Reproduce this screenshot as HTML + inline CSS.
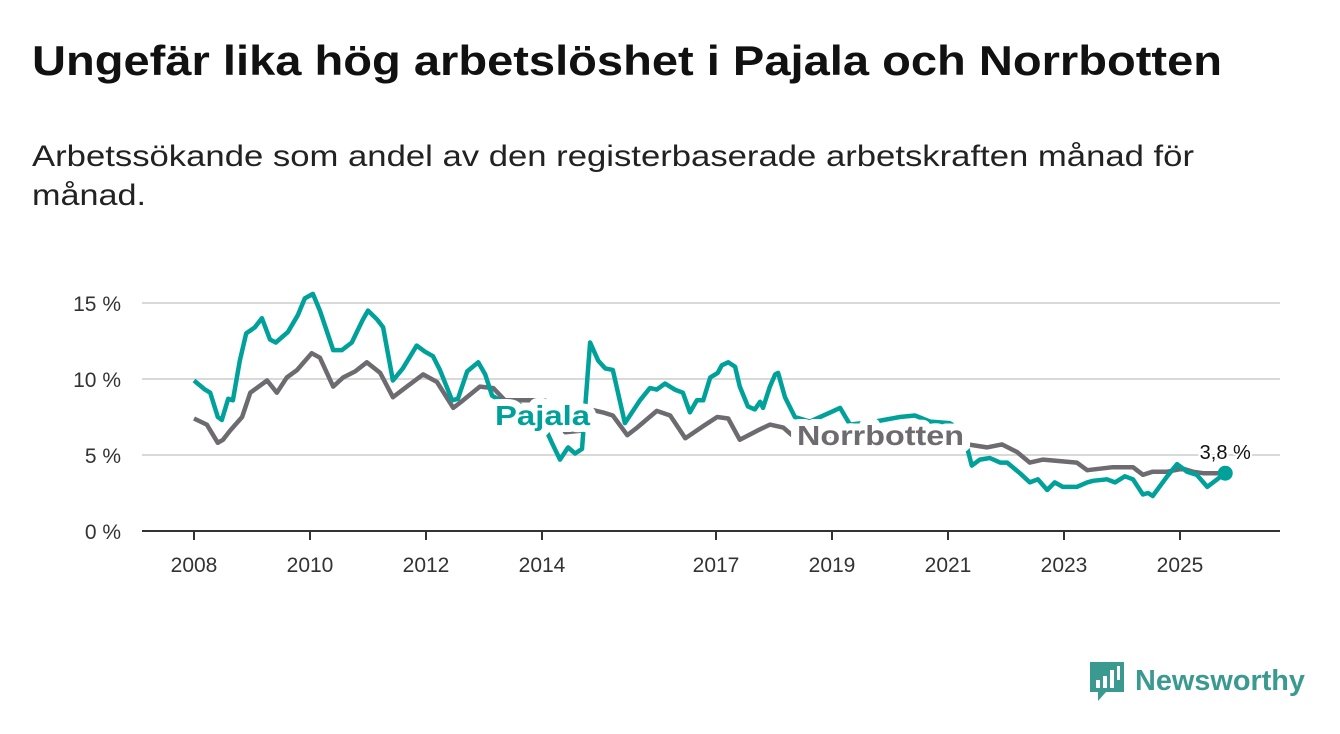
<!DOCTYPE html>
<html><head><meta charset="utf-8"><style>
body{margin:0;background:#fff;width:1340px;height:734px;overflow:hidden}
svg{display:block;font-family:"Liberation Sans",sans-serif}
</style></head><body>
<svg id="c" width="1340" height="734">
<text x="32" y="75" font-size="42" font-weight="bold" fill="#111" textLength="1190" lengthAdjust="spacingAndGlyphs">Ungefär lika hög arbetslöshet i Pajala och Norrbotten</text>
<text x="32" y="166" font-size="30" fill="#222" textLength="1162" lengthAdjust="spacingAndGlyphs">Arbetssökande som andel av den registerbaserade arbetskraften månad för</text>
<text x="32" y="205" font-size="30" fill="#222" textLength="114" lengthAdjust="spacingAndGlyphs">månad.</text>
<g id="grid"></g><g id="xax"></g><g id="lines"></g><g id="labels"></g>
<g>
<path d="M1090 662h34v30h-18l-8 9v-9h-8z" fill="#3a9a8f"/>
<rect x="1096" y="680" width="4" height="8" fill="#fff"/><rect x="1103" y="676" width="4" height="12" fill="#fff"/><rect x="1110" y="670" width="4" height="18" fill="#fff"/><rect x="1117" y="666" width="3" height="14" fill="#fff"/>
<text x="1135" y="690" font-size="29" font-weight="bold" fill="#3a9a8f" textLength="170" lengthAdjust="spacingAndGlyphs">Newsworthy</text>
</g>
</svg>
<script>
const yTicks=[0,5,10,15];
const xTicks=[2008,2010,2012,2014,2017,2019,2021,2023,2025];
const pajalaDates=[2008.0,2008.19,2008.28,2008.41,2008.48,2008.59,2008.67,2008.79,2008.9,2009.05,2009.17,2009.31,2009.41,2009.62,2009.79,2009.91,2010.05,2010.17,2010.4,2010.55,2010.72,2010.91,2011.0,2011.16,2011.26,2011.43,2011.6,2011.84,2011.98,2012.12,2012.24,2012.45,2012.55,2012.71,2012.9,2013.02,2013.14,2013.28,2013.62,2013.97,2014.17,2014.31,2014.45,2014.57,2014.69,2014.83,2014.97,2015.09,2015.22,2015.43,2015.69,2015.86,2015.98,2016.12,2016.29,2016.43,2016.55,2016.67,2016.78,2016.9,2017.03,2017.1,2017.21,2017.33,2017.41,2017.55,2017.67,2017.76,2017.81,2017.93,2018.02,2018.07,2018.19,2018.36,2018.62,2018.97,2019.14,2019.31,2019.74,2020.17,2020.43,2020.69,2021.03,2021.24,2021.33,2021.41,2021.55,2021.72,2021.9,2022.02,2022.24,2022.41,2022.55,2022.71,2022.84,2022.98,2023.22,2023.4,2023.5,2023.74,2023.88,2024.05,2024.19,2024.36,2024.45,2024.53,2024.78,2024.95,2025.12,2025.29,2025.47,2025.78];
const pajalaValues=[9.9,9.3,9.1,7.5,7.3,8.7,8.6,11.2,13,13.4,14,12.6,12.4,13.1,14.2,15.3,15.6,14.5,11.9,11.9,12.4,13.9,14.5,13.9,13.4,9.9,10.7,12.2,11.8,11.5,10.6,8.6,8.7,10.5,11.1,10.3,8.9,8.6,8.3,7.5,5.8,4.7,5.5,5.1,5.4,12.4,11.2,10.7,10.6,7.1,8.6,9.4,9.3,9.7,9.3,9.1,7.8,8.6,8.6,10.1,10.4,10.9,11.1,10.8,9.5,8.2,8.0,8.5,8.1,9.5,10.3,10.4,8.8,7.5,7.2,7.8,8.1,7.0,7.2,7.5,7.6,7.2,7.1,6.6,5.5,4.3,4.7,4.8,4.5,4.5,3.8,3.2,3.4,2.7,3.2,2.9,2.9,3.2,3.3,3.4,3.2,3.6,3.4,2.4,2.5,2.3,3.6,4.4,3.9,3.7,2.9,3.8];
const norrDates=[2008.0,2008.22,2008.41,2008.5,2008.62,2008.83,2008.97,2009.26,2009.43,2009.6,2009.78,2010.03,2010.17,2010.4,2010.57,2010.78,2010.98,2011.21,2011.43,2011.67,2011.95,2012.19,2012.47,2012.64,2012.93,2013.16,2013.36,2013.79,2014.05,2014.4,2014.66,2014.83,2015.05,2015.22,2015.47,2015.64,2015.98,2016.21,2016.47,2016.78,2017.02,2017.21,2017.41,2017.71,2017.93,2018.16,2018.31,2018.97,2019.83,2020.69,2021.21,2021.34,2021.67,2021.93,2022.19,2022.41,2022.64,2022.93,2023.22,2023.4,2023.62,2023.84,2024.19,2024.36,2024.53,2024.78,2025.05,2025.22,2025.4,2025.78];
const norrValues=[7.4,7.0,5.8,6.0,6.6,7.5,9.1,9.9,9.1,10.1,10.6,11.7,11.4,9.5,10.1,10.5,11.1,10.4,8.8,9.5,10.3,9.8,8.1,8.6,9.5,9.4,8.6,8.6,8.6,6.5,6.6,8.0,7.8,7.6,6.3,6.8,7.9,7.6,6.1,6.9,7.5,7.4,6.0,6.6,7.0,6.8,6.3,6.2,6.3,6.6,6.0,5.7,5.5,5.7,5.2,4.5,4.7,4.6,4.5,4.0,4.1,4.2,4.2,3.7,3.9,3.9,4.1,3.9,3.8,3.8];
const lastLabel="3,8 %";
const NS="http://www.w3.org/2000/svg";
const X=d=>194+(d-2008)*58, Y=v=>531-v*15.2;
function mk(t,a,p){const e=document.createElementNS(NS,t);for(const k in a)e.setAttribute(k,a[k]);p.appendChild(e);return e;}
const grid=document.getElementById('grid'),xax=document.getElementById('xax'),lines=document.getElementById('lines'),labs=document.getElementById('labels');
yTicks.forEach(v=>{
  if(v>0){const g=mk('line',{x1:142,x2:1280,y1:Y(v),y2:Y(v),stroke:'#d9d9d9','stroke-width':2},grid);
  
  }
  const t=mk('text',{x:121,y:Y(v)+8,'text-anchor':'end','font-size':21,fill:'#333'},grid);t.textContent=v+' %';
  
  
});
const ax=mk('line',{x1:142,x2:1280,y1:531,y2:531,stroke:'#333','stroke-width':2},xax);


xTicks.forEach(y=>{
  const tk=mk('line',{x1:X(y),x2:X(y),y1:531,y2:540,stroke:'#333','stroke-width':2},xax);
  
  
  const t=mk('text',{x:X(y),y:572,'text-anchor':'middle','font-size':21,fill:'#333'},xax);t.textContent=y;
  
  
});
function path(ds,vs){return ds.map((d,i)=>(i?'L':'M')+X(d).toFixed(1)+' '+Y(vs[i]).toFixed(1)).join('');}
const pn=mk('path',{d:path(norrDates,norrValues),fill:'none',stroke:'#6d6b70','stroke-width':4.5,'stroke-linejoin':'round'},lines);


const pp=mk('path',{d:path(pajalaDates,pajalaValues),fill:'none',stroke:'#00a19a','stroke-width':4.5,'stroke-linejoin':'round'},lines);


const ld=pajalaDates[pajalaDates.length-1],lv=pajalaValues[pajalaValues.length-1];
const dot=mk('circle',{cx:X(ld),cy:Y(lv),r:7.5,fill:'#00a19a'},lines);


const lt=mk('text',{x:X(ld),y:Y(lv)-14,'text-anchor':'middle','font-size':20,fill:'#111',stroke:'#fff','stroke-width':4,'paint-order':'stroke'},labs);lt.textContent=lastLabel;


const l1=mk('text',{x:495,y:425,'font-size':28,'font-weight':'bold',fill:'#00a19a',stroke:'#fff','stroke-width':14,'stroke-linejoin':'round','paint-order':'stroke',textLength:95,lengthAdjust:'spacingAndGlyphs'},labs);l1.textContent='Pajala';


const l2=mk('text',{x:797,y:445,'font-size':28,'font-weight':'bold',fill:'#6d6b70',stroke:'#fff','stroke-width':14,'stroke-linejoin':'round','paint-order':'stroke',textLength:167,lengthAdjust:'spacingAndGlyphs'},labs);l2.textContent='Norrbotten';


</script>
</body></html>
